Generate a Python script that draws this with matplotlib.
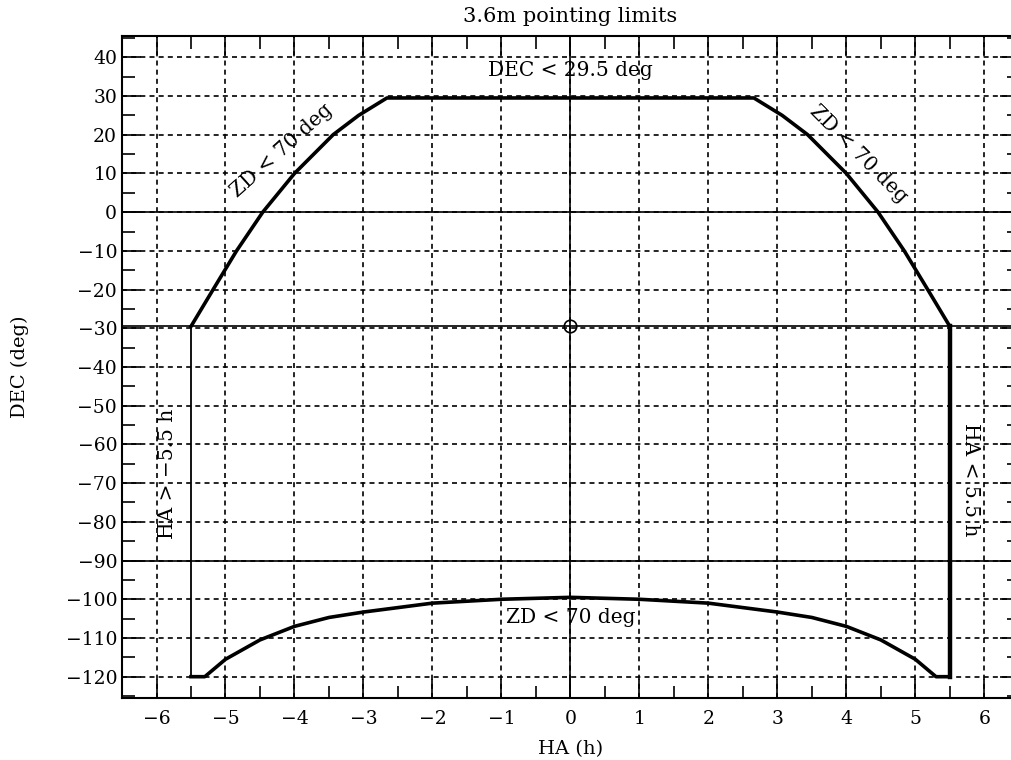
# plot.py

import matplotlib
matplotlib.use("Agg")
import matplotlib.pyplot as plt
from matplotlib.ticker import MultipleLocator

# ZD < 70 deg limit, upper part (HA in hours, DEC in deg), left half
zd_top_ha = [-5.5, -5.18, -4.84, -4.46, -4.0, -3.44, -3.07, -2.66]
zd_top_dec = [-29.5, -20, -10, 0, 10, 20, 25, 29.5]

# ZD < 70 deg limit below the pole (DEC < -90)
zd_bot_ha = [-5.3, -5.0, -4.5, -4.0, -3.5, -3.0, -2.0, -1.0, 0.0]
zd_bot_dec = [-120, -115.5, -110.5, -107, -104.7, -103.3, -101, -100, -99.5]

dec_max = 29.5
ha_limit = 5.5
dec_min = -120
latitude = -29.5

# full outline, mirrored for HA > 0
top_ha = zd_top_ha + [-h for h in reversed(zd_top_ha)]
top_dec = zd_top_dec + list(reversed(zd_top_dec))
bot_ha = [-ha_limit] + zd_bot_ha + [-h for h in reversed(zd_bot_ha[:-1])] + [ha_limit]
bot_dec = [dec_min] + zd_bot_dec + list(reversed(zd_bot_dec[:-1])) + [dec_min]

plt.rcParams['font.family'] = ['DejaVu Serif']

fig = plt.figure(figsize=(10.11, 7.6), dpi=100)
ax = fig.add_axes([0.1207, 0.0816, 0.887, 0.8710])

ax.set_xlim(-6.5, 6.5)
ax.set_ylim(-125.5, 45.5)

# reference lines
ax.axhline(0, color='black', lw=1.2)
ax.axhline(-90, color='black', lw=1.2)
ax.axhline(latitude, color='black', lw=1.2)
ax.axvline(0, color='black', lw=1.2)
ax.plot([0], [latitude], marker='o', ms=9, mfc='none', mec='black', mew=1.2)

# pointing limits
ax.plot(top_ha, top_dec, color='black', lw=2.6, solid_joinstyle='round')
ax.plot(bot_ha, bot_dec, color='black', lw=2.6, solid_joinstyle='round')
ax.plot([-ha_limit, -ha_limit], [latitude, dec_min], color='black', lw=1.3)
ax.plot([ha_limit, ha_limit], [latitude, dec_min], color='black', lw=3.2)

# labels on the limits
fs = 14.5
ax.text(0, 36.5, "DEC < 29.5 deg", ha='center', va='center', fontsize=fs)
ax.text(-4.18, 16, "ZD < 70 deg", ha='center', va='center', fontsize=fs, rotation=42)
ax.text(4.18, 15, "ZD < 70 deg", ha='center', va='center', fontsize=fs, rotation=-45)
ax.text(-5.84, -67.5, "HA > \u22125.5 h", ha='center', va='center', fontsize=fs, rotation=90)
ax.text(5.8, -69, "HA < 5.5 h", ha='center', va='center', fontsize=fs, rotation=-90)
ax.text(0, -104.7, "ZD < 70 deg", ha='center', va='center', fontsize=fs)

# axes, ticks and grid
ax.xaxis.set_major_locator(MultipleLocator(1))
ax.xaxis.set_minor_locator(MultipleLocator(0.5))
ax.yaxis.set_major_locator(MultipleLocator(10))
ax.yaxis.set_minor_locator(MultipleLocator(5))
ax.tick_params(which='both', direction='in', top=True, right=True, width=1.2, labelsize=13.5)
ax.tick_params(which='major', length=14)
ax.tick_params(which='minor', length=9)
ax.tick_params(axis='x', pad=9)
ax.grid(which='major', color='black', linestyle=(0, (3, 2.5)), lw=1.2)
for s in ax.spines.values():
    s.set_linewidth(1.5)

ax.set_title("3.6m pointing limits", fontsize=15, pad=10)
ax.set_xlabel("HA (h)", fontsize=14, labelpad=8)
ax.set_ylabel("DEC (deg)", fontsize=14, labelpad=26)

fig.savefig("out.png", dpi=100)
